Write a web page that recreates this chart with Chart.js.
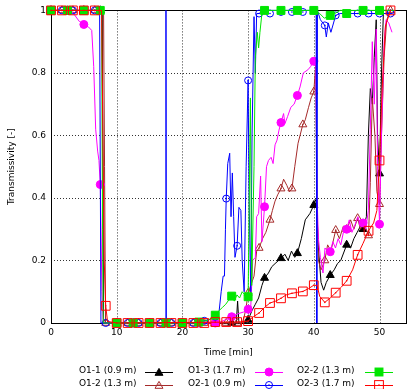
<!DOCTYPE html>
<html><head><meta charset="utf-8">
<script src="https://cdn.jsdelivr.net/npm/chart.js@4.4.0/dist/chart.umd.min.js"></script>
<style>
html,body{margin:0;padding:0;background:#fff;}
#wrap{position:relative;width:413px;height:389px;overflow:hidden;}
#c{position:absolute;left:0;top:0;}
.lgt{position:absolute;font-family:"DejaVu Sans",sans-serif;font-size:9px;color:#000;white-space:nowrap;line-height:11px;}
.lgs{position:absolute;}
</style></head><body>
<div id="wrap"><canvas id="c" width="413" height="389"></canvas><div id="legend"></div></div>
<script>
// ---- data ----
const xTicks = [0, 10, 20, 30, 40, 50];
const yTicks = [0, 0.2, 0.4, 0.6, 0.8, 1];
const yTickLabels = ['0', '0.2', '0.4', '0.6', '0.8', '1'];
const xTitle = 'Time [min]';
const yTitle = 'Transmissivity [-]';
const seriesNames = ['O1-1 (0.9 m)', 'O1-2 (1.3 m)', 'O1-3 (1.7 m)', 'O2-1 (0.9 m)', 'O2-2 (1.3 m)', 'O2-3 (1.7 m)'];

const o11Line = [[0,1],[7.8,1],[8.0,0],[28.2,0],[28.4,0.07],[28.6,0],[29.6,0],[30,0.01],[30.6,0.04],[31.1,0.06],[31.6,0.08],[32.1,0.12],[32.5,0.144],[33.1,0.16],[33.6,0.18],[34.1,0.19],[35,0.207],[35.6,0.22],[36.1,0.2],[36.6,0.23],[37.1,0.21],[37.5,0.223],[38.1,0.27],[38.7,0.33],[39.4,0.35],[40,0.377],[40.4,0.4],[40.7,0.24],[41.1,0.13],[41.5,0.105],[41.9,0.13],[42.5,0.153],[43.1,0.17],[43.6,0.19],[44.1,0.2],[45,0.25],[45.6,0.24],[46.1,0.27],[46.6,0.29],[47.1,0.31],[47.5,0.3],[48.0,0.34],[48.3,0.6],[48.6,0.75],[48.9,0.7],[49.2,0.85],[49.5,0.97],[49.7,0.6],[50,0.478],[50.3,0.8],[50.6,1],[52,1]];
const o11Marks = [[0,1],[2.5,1],[5,1],[7.5,1],[10,0],[12.5,0],[15,0],[17.5,0],[20,0],[22.5,0],[25,0],[27.5,0],[30,0.01],[32.5,0.144],[35,0.207],[37.5,0.223],[40,0.377],[42.5,0.153],[45,0.25],[47.5,0.3],[50,0.478]];

const o12Line = [[0,1],[8.0,1],[8.15,0.5],[8.3,0],[29.1,0],[29.4,0.02],[29.7,0.05],[30,0.096],[30.4,0.12],[30.9,0.15],[31.3,0.23],[31.67,0.24],[32.2,0.27],[32.7,0.29],[33.33,0.33],[33.7,0.36],[34.1,0.39],[34.5,0.41],[35,0.43],[35.4,0.46],[35.9,0.44],[36.3,0.42],[36.67,0.43],[37.1,0.5],[37.6,0.575],[38.33,0.635],[38.7,0.65],[39.2,0.69],[39.6,0.72],[40,0.74],[40.3,0.83],[40.45,0.4],[40.7,0.2],[41.1,0.17],[41.67,0.2],[42.1,0.25],[42.6,0.23],[43.33,0.297],[43.9,0.27],[44.5,0.31],[45,0.3],[45.6,0.33],[46.1,0.3],[46.67,0.335],[47.1,0.3],[47.6,0.32],[48.33,0.28],[48.6,0.45],[48.9,0.72],[49.3,0.6],[49.6,0.42],[50,0.38],[50.3,0.6],[50.7,0.85],[51.1,0.97],[51.67,1]];
const o12Marks = [[0,1],[1.67,1],[3.33,1],[5,1],[6.67,1],[8.33,0],[10,0],[11.67,0],[13.33,0],[15,0],[16.67,0],[18.33,0],[20,0],[21.67,0],[23.33,0],[25,0],[26.67,0],[28.33,0],[30,0.096],[31.67,0.24],[33.33,0.33],[35,0.43],[36.67,0.43],[38.33,0.635],[40,0.74],[41.67,0.2],[43.33,0.297],[45,0.3],[46.67,0.335],[48.33,0.28],[50,0.38],[51.67,1]];

const o13Line = [[0,1],[3.0,1],[3.6,0.985],[4.3,0.965],[5,0.955],[5.7,0.947],[6.2,0.936],[6.5,0.82],[6.8,0.62],[7.1,0.55],[7.3,0.52],[7.5,0.443],[7.75,0.1],[7.95,0],[25.5,0],[26.5,0.01],[27.5,0.02],[28.5,0.03],[29.3,0.035],[30,0.044],[30.4,0.05],[30.7,0.2],[31.1,0.21],[31.3,0.34],[31.6,0.35],[31.9,0.47],[32.1,0.26],[32.5,0.372],[32.8,0.5],[33.1,0.52],[33.5,0.53],[33.8,0.51],[34.1,0.57],[34.4,0.585],[34.7,0.617],[35,0.641],[35.4,0.67],[35.6,0.638],[36,0.66],[36.5,0.69],[37,0.7],[37.5,0.728],[37.9,0.755],[38.4,0.8],[39.1,0.81],[39.5,0.82],[40,0.837],[40.3,0.846],[40.5,0.4],[40.7,0.27],[41,0.21],[41.4,0.16],[41.7,0.24],[42.1,0.23],[42.5,0.228],[42.9,0.26],[43.3,0.24],[43.7,0.27],[44.1,0.25],[44.5,0.29],[45,0.3],[45.4,0.33],[45.8,0.29],[46.2,0.31],[46.7,0.34],[47.1,0.31],[47.5,0.32],[47.9,0.3],[48.3,0.36],[48.6,0.62],[48.9,0.9],[49.2,0.7],[49.5,0.94],[49.7,0.5],[50,0.316],[50.3,0.6],[50.7,0.9],[51.0,0.97],[51.4,0.96],[51.9,0.93]];
const o13Marks = [[0,1],[2.5,1],[5,0.955],[7.5,0.443],[10,0],[12.5,0],[15,0],[17.5,0],[20,0],[22.5,0],[25,0],[27.5,0.02],[30,0.044],[32.5,0.372],[35,0.641],[37.5,0.728],[40,0.837],[42.5,0.228],[45,0.3],[47.5,0.32],[50,0.316]];

const o21Line = [[0,1],[7.4,1],[7.6,0],[17.45,0],[17.5,1],[17.55,0],[22,0],[23,0.005],[24,0.01],[25,0.02],[25.6,0.04],[25.9,0.1],[26.2,0.15],[26.4,0.15],[26.55,0.3],[26.67,0.398],[26.9,0.51],[27.2,0.543],[27.4,0.34],[27.6,0.48],[27.8,0.34],[28.0,0.21],[28.33,0.247],[28.6,0.37],[28.9,0.36],[29.1,0.2],[29.4,0.1],[29.7,0.5],[30,0.776],[30.15,0.4],[30.4,0.1],[30.6,0.6],[30.9,0.98],[31.1,0.8],[31.3,0.99],[31.67,0.99],[32.2,1],[40.35,1],[40.45,0],[40.55,1],[41,0.97],[41.67,0.952],[41.9,0.915],[42.2,0.96],[42.6,0.93],[43.33,0.984],[44,0.99],[52,0.99]];
const o21Marks = [[0,1],[1.67,1],[3.33,1],[5,1],[6.67,1],[8.33,0],[10,0],[11.67,0],[13.33,0],[15,0],[16.67,0],[18.33,0],[20,0],[21.67,0],[23.33,0.007],[25,0.02],[26.67,0.398],[28.33,0.247],[30,0.776],[31.67,0.99],[33.33,0.99],[35,0.995],[36.67,0.995],[38.33,0.995],[40,1],[41.67,0.952],[43.33,0.984],[45,0.99],[46.67,0.99],[48.33,0.99],[50,0.99],[51.67,0.99]];

const o22Line = [[0,1],[7.7,1],[7.85,0.3],[7.95,0],[22,0],[23,0.005],[24,0.01],[25,0.025],[25.6,0.04],[26.1,0.05],[26.6,0.06],[27.1,0.075],[27.5,0.086],[27.9,0.07],[28.3,0.09],[28.7,0.08],[29.1,0.1],[29.5,0.09],[30,0.084],[30.35,0.72],[30.55,0.12],[30.9,0.5],[31.1,0.85],[31.4,0.93],[31.6,0.88],[31.8,0.93],[32.1,0.99],[32.5,1],[40,1],[40.9,0.99],[41.6,0.975],[42.5,0.984],[43.2,0.99],[44,1],[52.4,1]];
const o22Marks = [[0,1],[2.5,1],[5,1],[7.5,1],[10,0],[12.5,0],[15,0],[17.5,0],[20,0],[22.5,0.003],[25,0.025],[27.5,0.086],[30,0.084],[32.5,1],[35,1],[37.5,1],[40,1],[42.5,0.984],[45,0.99],[47.5,1],[50,1]];

const o23Line = [[0,1],[1.67,1],[3.33,1],[5,1],[6.67,1],[7.7,1],[7.9,0.6],[8.1,0.2],[8.33,0.055],[8.6,0.005],[10,0],[28.33,0.003],[30,0.006],[30.8,0.02],[31.67,0.032],[32.5,0.05],[33.33,0.064],[34.2,0.07],[35,0.079],[35.8,0.09],[36.67,0.095],[37.5,0.098],[38.33,0.101],[39.2,0.11],[40,0.121],[40.5,0.12],[40.9,0.085],[41.67,0.066],[42.5,0.08],[43.33,0.097],[44.2,0.115],[45,0.135],[45.9,0.17],[46.67,0.218],[47.5,0.255],[48.33,0.295],[49.1,0.32],[49.6,0.36],[50,0.52],[50.4,0.75],[50.9,0.95],[51.67,1]];
const o23Marks = [[0,1],[1.67,1],[3.33,1],[5,1],[6.67,1],[8.33,0.055],[10,0],[11.67,0],[13.33,0],[15,0],[16.67,0],[18.33,0],[20,0],[21.67,0],[23.33,0],[25,0.003],[26.67,0.003],[28.33,0.003],[30,0.006],[31.67,0.032],[33.33,0.064],[35,0.079],[36.67,0.095],[38.33,0.101],[40,0.121],[41.67,0.066],[43.33,0.097],[45,0.135],[46.67,0.218],[48.33,0.295],[50,0.52],[51.67,1]];

const seriesLines = [o11Line, o12Line, o13Line, o21Line, o22Line, o23Line];
const seriesMarks = [o11Marks, o12Marks, o13Marks, o21Marks, o22Marks, o23Marks];

// ---- styles ----
const styles = [
  {color:'#000000', shape:'triangle', fill:true,  r:4.6},
  {color:'#a52a2a', shape:'triangle', fill:false, r:4.6},
  {color:'#ff00ff', shape:'circle',   fill:true,  r:4},
  {color:'#0000ff', shape:'circle',   fill:false, r:3.5},
  {color:'#00e600', shape:'rect',     fill:true,  r:5.6},
  {color:'#ff0000', shape:'rect',     fill:false, r:6.2}
];
const FONT = '"DejaVu Sans", sans-serif';
const toPts = arr => arr.map(p => ({x:p[0], y:p[1]}));

const datasets = [];
seriesLines.forEach((line, i) => {
  const st = styles[i];
  const base = (5 - i) * 3;
  datasets.push({label: seriesNames[i], data: toPts(line), borderColor: st.color, borderWidth: 1,
    pointRadius: 0, showLine: true, tension: 0, fill: false, clip: false, order: base + 2});
  datasets.push({label: seriesNames[i] + ' marks', data: toPts(seriesMarks[i]), showLine: false,
    pointStyle: st.shape, pointRadius: st.r, pointBorderWidth: 1, pointBorderColor: st.color,
    pointBackgroundColor: st.fill ? st.color : 'rgba(255,255,255,0)', clip: false, order: base + 1});
  if (!st.fill) {
    datasets.push({label: seriesNames[i] + ' dots', data: toPts(seriesMarks[i]), showLine: false,
      pointStyle: 'circle', pointRadius: 0.8, pointBorderWidth: 0, pointBackgroundColor: st.color,
      clip: false, order: base});
  }
});

// dotted grid drawn from the chart's own scales, plus the solid frame
const framePlugin = {
  id: 'frame',
  beforeDatasetsDraw(chart) {
    const a = chart.chartArea, c = chart.ctx;
    const xs = chart.scales.x, ys = chart.scales.y;
    c.save();
    c.strokeStyle = '#333'; c.lineWidth = 1; c.setLineDash([1, 2]);
    xs.ticks.forEach(t => {
      if (t.value <= xs.min || t.value >= xs.max) return;
      const px = Math.round(xs.getPixelForValue(t.value)) + 0.5;
      c.beginPath(); c.moveTo(px, a.top); c.lineTo(px, a.bottom); c.stroke();
    });
    ys.ticks.forEach(t => {
      if (t.value <= ys.min || t.value >= ys.max) return;
      const py = Math.round(ys.getPixelForValue(t.value)) + 0.5;
      c.beginPath(); c.moveTo(a.left, py); c.lineTo(a.right, py); c.stroke();
    });
    c.setLineDash([]);
    c.strokeStyle = '#000';
    c.strokeRect(Math.round(a.left) + 0.5, Math.round(a.top) + 0.5, Math.round(a.right - a.left), Math.round(a.bottom - a.top));
    c.restore();
  }
};

new Chart(document.getElementById('c'), {
  type: 'scatter',
  data: {datasets},
  options: {
    responsive: false, animation: false, devicePixelRatio: 1,
    layout: {padding: {left: 0, right: 3, top: 10, bottom: 30}},
    plugins: {legend: {display: false}, tooltip: {enabled: false}},
    scales: {
      x: {
        type: 'linear', min: 0, max: 54,
        afterBuildTicks: s => { s.ticks = xTicks.map(v => ({value: v})); },
        afterFit: s => { s.height = 36; },
        ticks: {font: {family: FONT, size: 9}, color: '#000', padding: 4, maxRotation: 0, autoSkip: false},
        grid: {display: false, drawTicks: false},
        border: {display: false},
        title: {display: true, text: xTitle, font: {family: FONT, size: 9}, color: '#000', padding: {top: 0, bottom: 1}}
      },
      y: {
        type: 'linear', min: 0, max: 1,
        afterBuildTicks: s => { s.ticks = yTicks.map(v => ({value: v})); },
        afterFit: s => { s.width = 51; },
        ticks: {font: {family: FONT, size: 9}, color: '#000', padding: 5,
          callback: (v) => { const k = yTicks.indexOf(v); return k >= 0 ? yTickLabels[k] : ''; }},
        grid: {display: false, drawTicks: false},
        border: {display: false},
        title: {display: true, text: yTitle, font: {family: FONT, size: 9}, color: '#000', padding: {top: 6, bottom: 0}}
      }
    }
  },
  plugins: [framePlugin]
});

// ---- legend (HTML) ----
const legend = document.getElementById('legend');
const textLeft = [79, 188, 297], sampleLeft = [145, 255, 365], rowY = [371, 384];
function markerSvg(st) {
  const cx = 14, cy = 6, fill = st.fill ? st.color : 'none';
  let m = '';
  if (st.shape === 'circle') {
    m = `<circle cx="${cx}" cy="${cy}" r="${st.r}" fill="${fill}" stroke="${st.color}" stroke-width="1"/>`;
  } else if (st.shape === 'rect') {
    const h = st.r * Math.SQRT1_2;
    m = `<rect x="${cx - h}" y="${cy - h}" width="${2 * h}" height="${2 * h}" fill="${fill}" stroke="${st.color}" stroke-width="1"/>`;
  } else {
    const r = st.r, pts = [0, 1, 2].map(k => { const a = k * 2 * Math.PI / 3; return (cx + Math.sin(a) * r).toFixed(2) + ',' + (cy + 1 - Math.cos(a) * r).toFixed(2); }).join(' ');
    m = `<polygon points="${pts}" fill="${fill}" stroke="${st.color}" stroke-width="1"/>`;
  }
  const dot = st.fill ? '' : `<circle cx="${cx}" cy="${cy}" r="0.8" fill="${st.color}"/>`;
  return `<svg width="28" height="13" xmlns="http://www.w3.org/2000/svg"><line x1="0" y1="${cy}.5" x2="28" y2="${cy}.5" stroke="${st.color}" stroke-width="1"/>${m}${dot}</svg>`;
}
seriesNames.forEach((name, i) => {
  const col = Math.floor(i / 2), row = i % 2, st = styles[i];
  const t = document.createElement('div');
  t.className = 'lgt'; t.textContent = name;
  t.style.left = textLeft[col] + 'px'; t.style.top = (rowY[row] - 6) + 'px';
  legend.appendChild(t);
  const s = document.createElement('div');
  s.className = 'lgs'; s.innerHTML = markerSvg(st);
  s.style.left = sampleLeft[col] + 'px'; s.style.top = (rowY[row] - 6) + 'px';
  legend.appendChild(s);
});
</script>
</body></html>
